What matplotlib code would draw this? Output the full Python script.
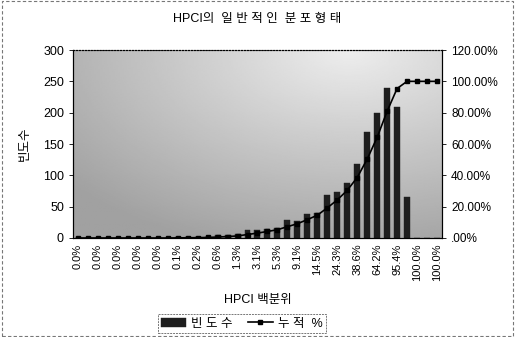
import numpy as np
import matplotlib
matplotlib.use('Agg')
import matplotlib.pyplot as plt
from matplotlib.patches import Rectangle

plt.rcParams['font.family'] = ['Liberation Sans', 'Noto Sans CJK KR', 'DejaVu Sans']

# frequency per HPCI percentile class (37 classes)
counts = [0, 0, 0, 0, 0, 0, 0, 0, 0, 0, 1, 1, 1, 2, 4, 4, 6, 13, 13,
          15, 16, 28, 27, 38, 40, 68, 73, 88, 118, 169, 200, 240, 209, 66,
          0, 0, 0]
# tick labels shown on every other class
tick_labels = ['0.0%', '0.0%', '0.0%', '0.0%', '0.0%', '0.1%', '0.2%', '0.6%',
               '1.3%', '3.1%', '5.3%', '9.1%', '14.5%', '24.3%', '38.6%',
               '64.2%', '95.4%', '100.0%', '100.0%']
left_ticks = [0, 50, 100, 150, 200, 250, 300]
right_ticks = [0, 0.2, 0.4, 0.6, 0.8, 1.0, 1.2]
right_labels = ['.00%', '20.00%', '40.00%', '60.00%', '80.00%', '100.00%', '120.00%']

x = np.arange(len(counts))
cum = np.cumsum(counts) / np.sum(counts)

fig = plt.figure(figsize=(5.15, 3.37), dpi=100)
ax = fig.add_axes([0.1417, 0.2938, 0.7165, 0.5578])

# gray background, light towards the upper right
gx, gy = np.meshgrid(np.linspace(0, 1, 200), np.linspace(0, 1, 200))
d = np.sqrt(((gx - 0.75) * 1.0) ** 2 + (gy * 0.9) ** 2)
shade = 0.93 - 0.3 * np.clip(d / 1.0, 0, 1)
ax.imshow(shade, cmap='gray', vmin=0, vmax=1, extent=[-0.5, 36.5, 0, 300],
          aspect='auto', origin='upper', zorder=0)

ax.bar(x, counts, width=0.6, color='#1e1e1e', edgecolor='#1e1e1e', lw=0.3,
       zorder=2, label='빈도수')
ax.set_xlim(-0.5, len(counts) - 0.5)
ax.set_ylim(0, 300)
ax.set_yticks(left_ticks)
ax.tick_params(axis='y', labelsize=9, length=3, width=0.6)
ax.set_xticks(x[::2])
ax.set_xticklabels(tick_labels, rotation=90, fontsize=8)
ax.tick_params(axis='x', length=0, pad=4)
ax.set_ylabel('빈도수', fontsize=9, labelpad=9)
ax.set_xlabel('HPCI 백분위', fontsize=9, labelpad=9)

ax2 = ax.twinx()
ax2.plot(x, cum, color='black', lw=1.2, marker='s', ms=3.5, zorder=3,
         label='누적 %')
ax2.set_ylim(0, 1.2)
ax2.set_yticks(right_ticks)
ax2.set_yticklabels(right_labels)
ax2.tick_params(axis='y', labelsize=8.5, length=3, width=0.6)

for a in (ax, ax2):
    for s in a.spines.values():
        s.set_linewidth(0.8)
ax.spines['top'].set_linestyle(':')
ax2.spines['top'].set_linestyle(':')

fig.text(0.5, 0.944, 'HPCI의  일 반 적 인  분 포 형 태', ha='center', va='center',
         fontsize=9)

h1, l1 = ax.get_legend_handles_labels()
h2, l2 = ax2.get_legend_handles_labels()
leg = fig.legend(h1 + h2, ['빈 도 수', '누 적  %'], loc='center',
                 bbox_to_anchor=(0.47, 0.04),
                 ncol=2, fontsize=9, frameon=True, fancybox=False,
                 handlelength=2.0, columnspacing=1.2, borderpad=0.25,
                 handletextpad=0.4)
leg.get_frame().set_edgecolor('#555555')
leg.get_frame().set_linestyle((0, (2, 1)))
leg.get_frame().set_linewidth(0.7)

fig.patches.append(Rectangle((0.003, 0.003), 0.994, 0.994, transform=fig.transFigure,
                             fill=False, ec='#777777', lw=0.8, ls=(0, (3, 2))))

fig.savefig('out.png', dpi=100)
